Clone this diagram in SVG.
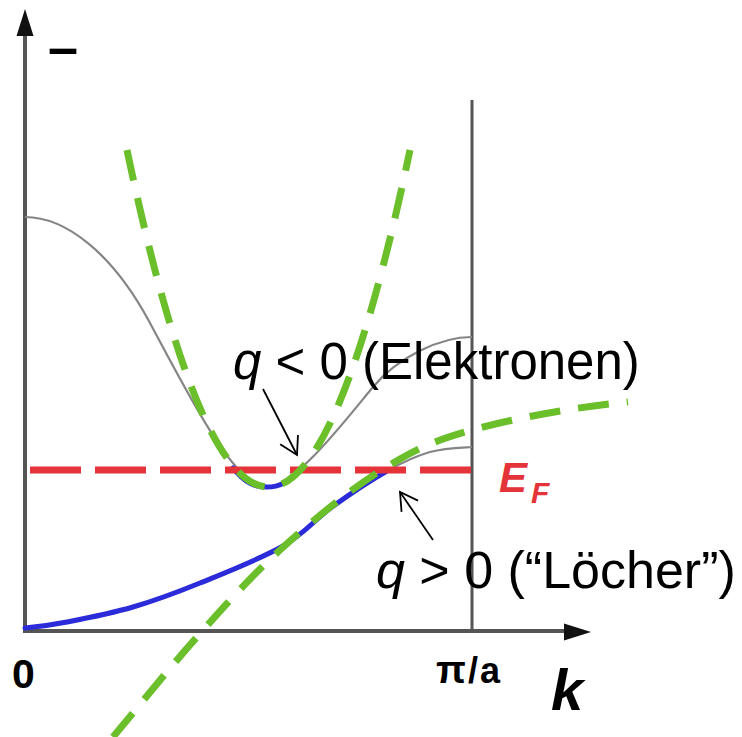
<svg xmlns="http://www.w3.org/2000/svg" width="742" height="737" viewBox="0 0 742 737">
<defs>
<style>
.axis{stroke:#555;stroke-width:4;fill:none}
.band{stroke:#858585;stroke-width:2.2;fill:none}
.blue{stroke:#2b2bd9;stroke-width:5;fill:none;stroke-linecap:round}
.green{stroke:#6abf2a;stroke-width:7;fill:none;stroke-dasharray:31 18}
.red{stroke:#e5333a;stroke-width:7;fill:none;stroke-dasharray:51 14}
.lbl{font-family:"Liberation Sans",Arial,sans-serif;fill:#000}
.ptr{stroke:#000;stroke-width:1.8;fill:none}
</style>
<marker id="open" markerUnits="userSpaceOnUse" viewBox="-2 -12 24 24" refX="20" refY="0" markerWidth="24" markerHeight="24" orient="auto" overflow="visible">
<path d="M2.7,-10 L20,0 L2.7,10" stroke="#000" stroke-width="1.8" fill="none"/>
</marker>
</defs>
<rect width="742" height="737" fill="#fff"/>
<g id="axes">
<line class="axis" x1="25" y1="631" x2="25" y2="32"/>
<polygon points="25,9 16.5,36 33.5,36" fill="#111"/>
<line class="axis" x1="23" y1="631" x2="568" y2="631"/>
<polygon points="591,632 564,623.5 564,640.5" fill="#111"/>
<line x1="472" y1="100" x2="472" y2="631" stroke="#555" stroke-width="3"/>
</g>
<g id="bands">
<path class="band" d="M25,217 C65,217 112,252 150,323 C190,398 235,487 267,487 C295,487 348,417 373,387 C398,357 440,337 472,337"/>
<path class="band" d="M387,471 C403.3,461.8 415.8,456 430,452 C444.2,448 458,447.8 472,447"/>
<path class="blue" d="M25,628 C39,626.7 49,625.5 67,622 C85,618.5 110.8,613.5 133,607 C155.2,600.5 175,593.2 200,583 C225,572.8 261,558.7 283,546 C305,533.3 314.7,519.5 332,507 C349.3,494.5 370.7,480.2 387,471"/>
<path class="blue" d="M233,468 C245,483 254,487 267,487 C280,487 288,482 296,473"/>
</g>
<g id="fermi">
<line class="red" x1="30" y1="470" x2="472" y2="470"/>
</g>
<g id="approx">
<path class="green" d="M127,150 Q268.5,824 410,150"/>
<path class="green" d="M113,737 C141,703.7 169.2,668.2 197,637 C224.8,605.8 249.5,577.7 280,550 C310.5,522.3 348,491 380,471 C412,451 430.7,441.5 472,430 C513.3,418.5 576,406.7 628,402"/>
</g>
<g id="connectors">
<line class="ptr" x1="263" y1="389" x2="297" y2="455" marker-end="url(#open)"/>
<line class="ptr" x1="433" y1="540" x2="400" y2="492" marker-end="url(#open)"/>
</g>
<g id="labels">
<text class="lbl" x="48" y="66" font-size="54" font-weight="bold">–</text>
<text class="lbl" x="12" y="688" font-size="41" font-weight="bold">0</text>
<text class="lbl" x="436" y="683" font-size="36" font-weight="bold" textLength="64" lengthAdjust="spacing"><tspan font-size="39">π</tspan>/a</text>
<text class="lbl" x="551" y="710" font-size="58" font-weight="bold" font-style="italic">k</text>
<text class="lbl" x="499" y="492" font-size="42" font-weight="bold" font-style="italic" style="fill:#e5333a">E<tspan font-size="30" dx="4" dy="11">F</tspan></text>
<text class="lbl" x="233" y="379" font-size="51"><tspan font-style="italic">q</tspan> &lt; 0 (Elektronen)</text>
<text class="lbl" x="376" y="588" font-size="52"><tspan font-style="italic">q</tspan> &gt; 0 (“Löcher”)</text>
</g>
</svg>
